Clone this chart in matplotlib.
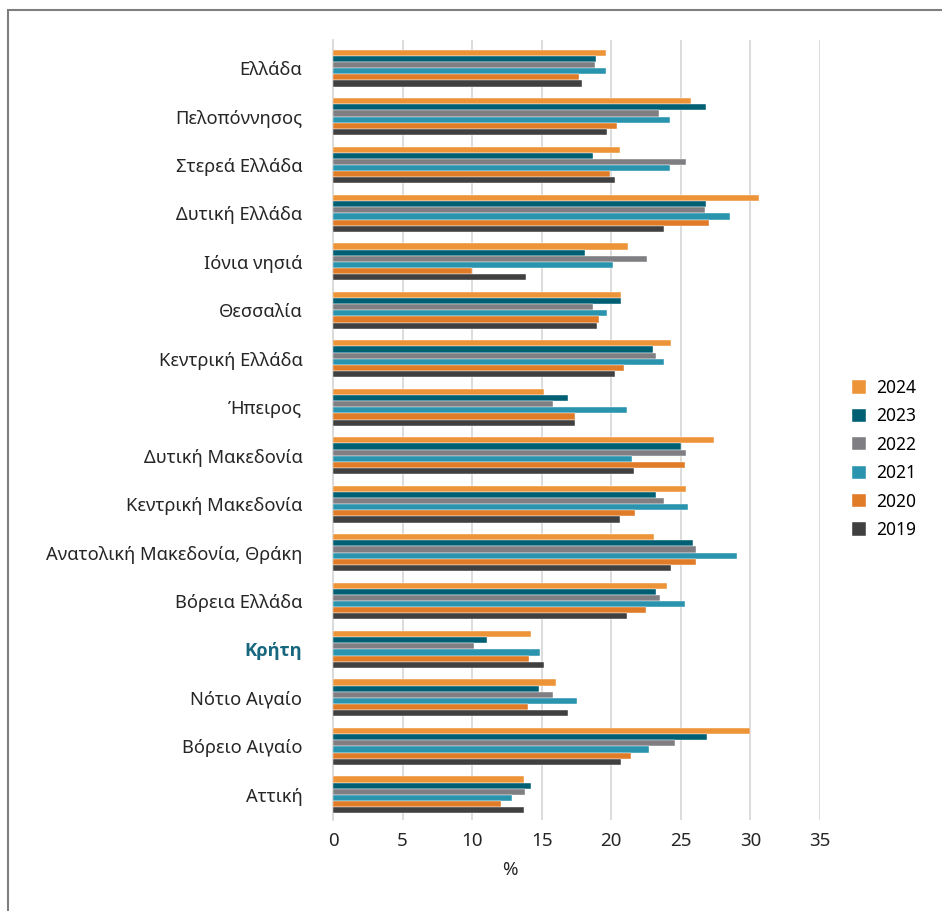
import matplotlib
matplotlib.use("Agg")
import matplotlib.pyplot as plt
import numpy as np
from matplotlib.patches import Rectangle

plt.rcParams['font.family'] = ['Noto Sans', 'DejaVu Sans']

regions = ["Ελλάδα", "Πελοπόννησος", "Στερεά Ελλάδα", "Δυτική Ελλάδα", "Ιόνια νησιά",
           "Θεσσαλία", "Κεντρική Ελλάδα", "Ήπειρος", "Δυτική Μακεδονία",
           "Κεντρική Μακεδονία", "Ανατολική Μακεδονία, Θράκη", "Βόρεια Ελλάδα",
           "Κρήτη", "Νότιο Αιγαίο", "Βόρειο Αιγαίο", "Αττική"]

years = ["2024", "2023", "2022", "2021", "2020", "2019"]

v2024 = [19.6, 25.7, 20.6, 30.6, 21.2, 20.7, 24.3, 15.2, 27.4, 25.4, 23.1, 24.0, 14.2, 16.0, 30.0, 13.7]
v2023 = [18.9, 26.8, 18.7, 26.8, 18.1, 20.7, 23.0, 16.9, 25.0, 23.2, 25.9, 23.2, 11.1, 14.8, 26.9, 14.2]
v2022 = [18.8, 23.4, 25.4, 26.7, 22.6, 18.7, 23.2, 15.8, 25.4, 23.8, 26.1, 23.5, 10.1, 15.8, 24.6, 13.8]
v2021 = [19.6, 24.2, 24.2, 28.5, 20.1, 19.7, 23.8, 21.1, 21.5, 25.5, 29.0, 25.3, 14.9, 17.5, 22.7, 12.9]
v2020 = [17.7, 20.4, 19.9, 27.0, 10.0, 19.1, 20.9, 17.4, 25.3, 21.7, 26.1, 22.5, 14.1, 14.0, 21.4, 12.1]
v2019 = [17.9, 19.7, 20.3, 23.8, 13.9, 19.0, 20.3, 17.4, 21.6, 20.6, 24.3, 21.1, 15.2, 16.9, 20.7, 13.7]

series = [v2024, v2023, v2022, v2021, v2020, v2019]
colors = ["#EE9438", "#005F73", "#7F7F83", "#2A93AE", "#E07B28", "#404040"]

fig = plt.figure(figsize=(9.42, 9.11), dpi=100)
ax = fig.add_axes([333/942, 1-820/911, (820-333)/942, (820-40)/911])

y = np.arange(len(regions))
step = 0.127
h = 0.127
for k, (vals, col, yr) in enumerate(zip(series, colors, years)):
    ax.barh(y + (k - 2.5) * step, vals, height=h, color=col, label=yr,
            edgecolor='white', linewidth=0.3, zorder=3)

ax.set_xlim(0, 35)
ax.set_ylim(15.52, -0.58)
ax.set_xticks(np.arange(0, 36, 5))
ax.set_yticks(y)
ax.set_yticklabels(regions)
ax.tick_params(axis='y', length=0, pad=22, labelsize=13.2, labelcolor='#262626')
ax.tick_params(axis='x', length=0, pad=9, labelsize=13.5, labelcolor='#262626')
ax.xaxis.grid(True, color='#D9D9D9', linewidth=1.3, zorder=0)
ax.set_axisbelow(True)
for s in ['top', 'right', 'bottom']:
    ax.spines[s].set_visible(False)
ax.spines['left'].set_color('#D9D9D9')
ax.spines['left'].set_linewidth(1.3)

for lbl in ax.get_yticklabels():
    if lbl.get_text() == "Κρήτη":
        lbl.set_fontfamily(['Open Sans', 'DejaVu Sans'])
        lbl.set_fontweight('bold')
        lbl.set_color('#17677F')

ax.set_xlabel('%', fontsize=13.5, color='#262626')
ax.xaxis.set_label_coords((510-333)/(820-333), -0.052)

leg = fig.legend(loc='center left', bbox_to_anchor=(836/942, 1-459/911), frameon=False,
                 fontsize=12.5, handlelength=0.8, handleheight=0.8, labelspacing=0.6,
                 handletextpad=0.6)

fig.patches.append(Rectangle((8/942, -0.05), 1.2, 1 - 10/911 + 0.05, transform=fig.transFigure,
                             fill=False, edgecolor='#7F7F7F', linewidth=1.5))

fig.savefig('out.png', dpi=100)
